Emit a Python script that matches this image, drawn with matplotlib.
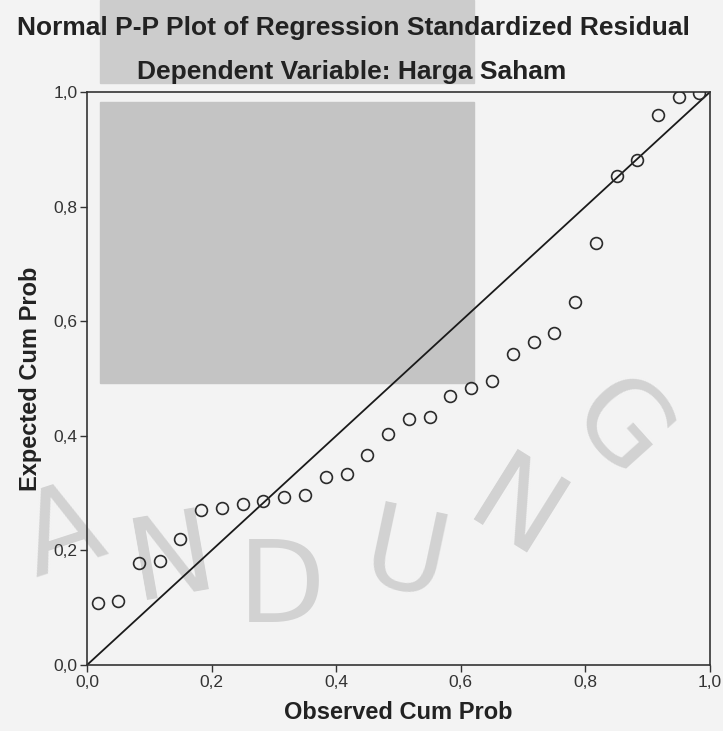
import matplotlib
matplotlib.use('Agg')
import matplotlib.pyplot as plt
from matplotlib.patches import Rectangle

plt.rcParams['font.family'] = ['Liberation Sans', 'DejaVu Sans']

# --- data ---
observed = [0.017, 0.050, 0.083, 0.117, 0.150, 0.183, 0.217, 0.250, 0.283, 0.317,
            0.350, 0.383, 0.417, 0.450, 0.483, 0.517, 0.550, 0.583, 0.617, 0.650,
            0.683, 0.717, 0.750, 0.783, 0.817, 0.850, 0.883, 0.917, 0.950, 0.983]
expected = [0.109, 0.112, 0.178, 0.182, 0.220, 0.270, 0.274, 0.281, 0.287, 0.294,
            0.297, 0.328, 0.334, 0.366, 0.404, 0.430, 0.432, 0.469, 0.483, 0.496,
            0.542, 0.564, 0.579, 0.634, 0.736, 0.854, 0.881, 0.959, 0.992, 0.998]
ticks = [0.0, 0.2, 0.4, 0.6, 0.8, 1.0]
tick_labels = ['0,0', '0,2', '0,4', '0,6', '0,8', '1,0']
watermark = ['A', 'N', 'D', 'U', 'N', 'G']

W, H = 723, 731
fig = plt.figure(figsize=(W / 100, H / 100), dpi=100, facecolor='#f3f3f3')


def fx(px):
    return px / W


def fy(py):
    return 1 - py / H


# watermark: grey blocks and the arc of letters (behind the axes)
fig.patches.append(Rectangle((fx(100), fy(83)), fx(374), 83 / H, transform=fig.transFigure,
                             color='#cccccc', zorder=0))
fig.patches.append(Rectangle((fx(100), fy(383)), fx(374), 281 / H, transform=fig.transFigure,
                             color='#c4c4c4', zorder=0))
letter_pos = [(62, 535, 18), (172, 562, 10), (282, 590, 0), (405, 560, -12), (515, 515, -32), (618, 430, -48)]
for ch, (px, py, rot) in zip(watermark, letter_pos):
    fig.text(fx(px), fy(py), ch, fontsize=82, color='#d2d2d2', rotation=rot,
             ha='center', va='center', family='DejaVu Sans', zorder=0)

ax = fig.add_axes([fx(87), fy(665), fx(623), 573 / H])
ax.set_zorder(5)
ax.set_facecolor('none')

ax.plot([0, 1], [0, 1], color='#1a1a1a', linewidth=1.3, zorder=2)
ax.plot(observed, expected, linestyle='none', marker='o', markersize=8.5,
        markerfacecolor='none', markeredgecolor='#2a2a2a', markeredgewidth=1.2, zorder=3)

ax.set_xlim(0, 1)
ax.set_ylim(0, 1)
ax.set_xticks(ticks)
ax.set_yticks(ticks)
ax.set_xticklabels(tick_labels)
ax.set_yticklabels(tick_labels)
ax.tick_params(direction='out', length=5, width=1, colors='#333333', labelsize=12.5, pad=2)
for spine in ax.spines.values():
    spine.set_color('#333333')
    spine.set_linewidth(1.2)

ax.set_xlabel('Observed Cum Prob', fontsize=17, fontweight='bold', color='#222222', labelpad=8)
ax.set_ylabel('Expected Cum Prob', fontsize=17, fontweight='bold', color='#222222', labelpad=8)

fig.text(fx(353), fy(28), 'Normal P-P Plot of Regression Standardized Residual',
         fontsize=19, fontweight='bold', color='#222222', ha='center', va='center')
fig.text(fx(352), fy(72), 'Dependent Variable: Harga Saham',
         fontsize=19, fontweight='bold', color='#222222', ha='center', va='center')

fig.savefig('out.png', dpi=100, facecolor=fig.get_facecolor())
